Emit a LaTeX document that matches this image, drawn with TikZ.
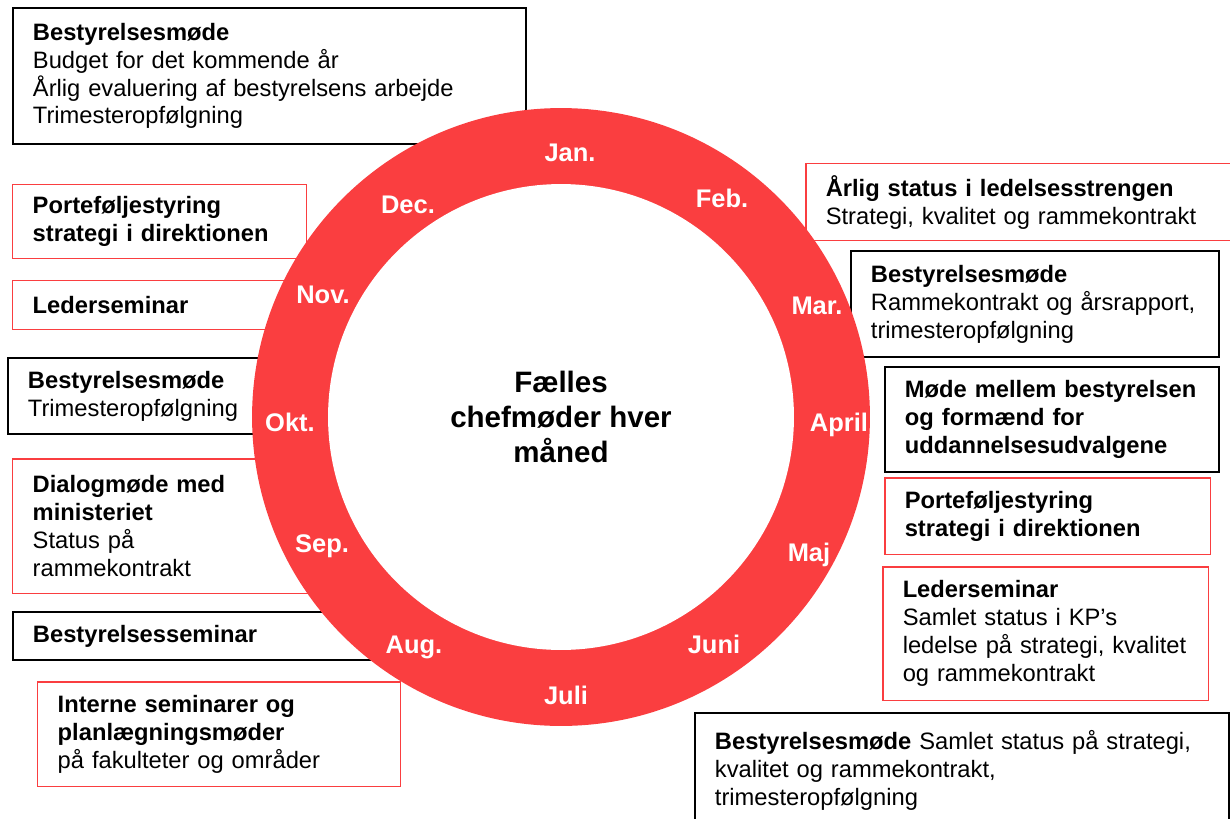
\documentclass[tikz,border=0pt]{standalone}
\usepackage{fontspec}
\setmainfont{Liberation Sans}
\usepackage{tikz}
\usetikzlibrary{positioning}

\definecolor{ringred}{RGB}{250,62,64}

\begin{document}
\begin{tikzpicture}[x=0.02cm, y=-0.02cm,
    boxtext/.style={anchor=north west, fill=white, align=left, inner xsep=0.4cm, inner ysep=0pt,
        font=\fontsize{13.5}{15.9}\selectfont},
    blackbox/.style={boxtext, draw=black, line width=1.1pt},
    redbox/.style={boxtext, draw=ringred, line width=0.85pt},
    month/.style={text=white, font=\bfseries\fontsize{14.5}{17}\selectfont}]
    \useasboundingbox (0,0) rectangle (1230,818);

    % left column
    \node at (12,7) [blackbox, text width=9.46cm, minimum height=2.72cm] (decbest) {\textbf{Bestyrelsesmøde}\\Budget for det kommende år\\Årlig evaluering af bestyrelsens arbejde\\Trimesteropfølgning};
    \node at (12,184) [redbox, text width=5.08cm, minimum height=1.48cm] (decport) {\textbf{Porteføljestyring}\\\textbf{strategi i direktionen}};
    \node at (12,280) [redbox, text width=5.08cm, minimum height=0.98cm] (novleder) {\textbf{Lederseminar}};
    \node at (7,357) [blackbox, text width=4.86cm, minimum height=1.52cm] (oktbest) {\textbf{Bestyrelsesmøde}\\Trimesteropfølgning};
    \node at (12,458) [redbox, text width=5.36cm, minimum height=2.7cm] (sepdialog) {\textbf{Dialogmøde med}\\\textbf{ministeriet}\\Status på\\rammekontrakt};
    \node at (12,611) [blackbox, text width=6.96cm, minimum height=0.96cm] (augsem) {\textbf{Bestyrelsesseminar}};
    \node at (37,681) [redbox, text width=6.46cm, minimum height=2.1cm] (julintern) {\textbf{Interne seminarer og}\\\textbf{planlægningsmøder}\\på fakulteter og områder};

    % right column
    \node at (805,163) [redbox, text width=7.8cm, minimum height=1.54cm] (febstatus) {\textbf{Årlig status i ledelsesstrengen}\\Strategi, kvalitet og rammekontrakt};
    \node at (850,250) [blackbox, text width=6.56cm, minimum height=2.12cm] (marbest) {\textbf{Bestyrelsesmøde}\\Rammekontrakt og årsrapport,\\trimesteropfølgning};
    \node at (884,366) [blackbox, text width=5.88cm, minimum height=2.1cm] (aprmode) {\textbf{Møde mellem bestyrelsen}\\\textbf{og formænd for}\\\textbf{uddannelsesudvalgene}};
    \node at (884,477) [redbox, text width=5.72cm, minimum height=1.54cm] (majport) {\textbf{Porteføljestyring}\\\textbf{strategi i direktionen}};
    \node at (882,566) [redbox, text width=5.72cm, minimum height=2.68cm] (junleder) {\textbf{Lederseminar}\\Samlet status i KP’s\\ledelse på strategi, kvalitet\\og rammekontrakt};
    \node at (694,712) [blackbox, text width=9.88cm, minimum height=2.3cm] (julbest) {\textbf{Bestyrelsesmøde} Samlet status på strategi,\\kvalitet og rammekontrakt,\\trimesteropfølgning};

    % year wheel
    \node at (561,417) [circle, fill=ringred, inner sep=0pt, minimum size=12.36cm] (ring) {};
    \node at (ring.center) [circle, fill=white, inner sep=0pt, minimum size=9.32cm, align=center,
        font=\bfseries\fontsize{16.8}{20}\selectfont] (hub) {Fælles\\chefmøder hver\\måned};

    \node at (570,153) [month] (jan) {Jan.};
    \node at (722,198) [month] (feb) {Feb.};
    \node at (817,306) [month] (mar) {Mar.};
    \node at (839,425) [month] (apr) {April};
    \node at (809,555) [month] (maj) {Maj};
    \node at (714,644) [month] (jun) {Juni};
    \node at (566,695) [month] (jul) {Juli};
    \node at (414,647) [month] (aug) {Aug.};
    \node at (322,546) [month] (sep) {Sep.};
    \node at (290,422) [month] (okt) {Okt.};
    \node at (323,295) [month] (nov) {Nov.};
    \node at (408,205) [month] (dec) {Dec.};
\end{tikzpicture}
\end{document}
